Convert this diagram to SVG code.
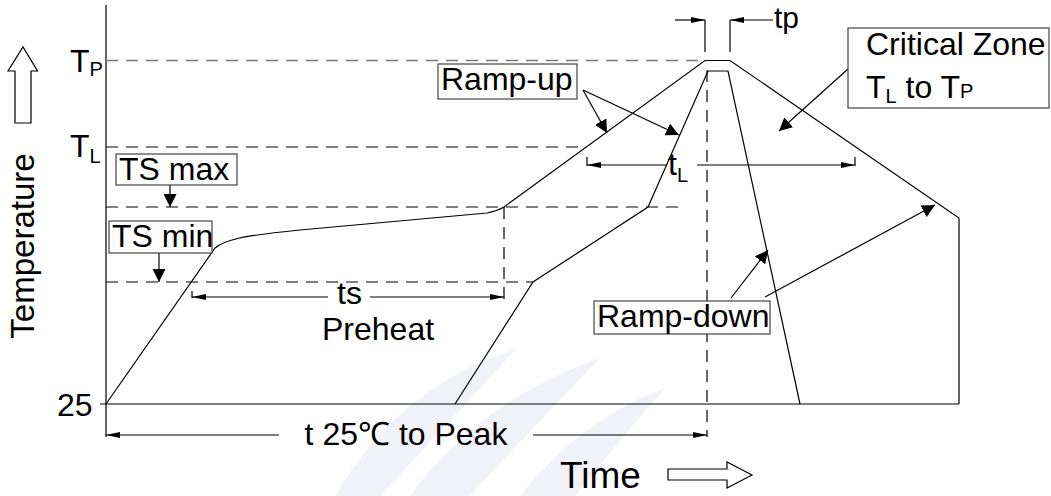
<svg xmlns="http://www.w3.org/2000/svg" width="1051" height="496" viewBox="0 0 1051 496">
<style>
text{font-family:"Liberation Sans",Arial,sans-serif;font-size:32px;fill:#000}
.sub{font-size:20px}
.ln{fill:none;stroke:#000;stroke-width:1.2}
.dash{fill:none;stroke:#000;stroke-width:1.2;stroke-dasharray:12 8}
.gdash{fill:none;stroke:#777;stroke-width:1.6;stroke-dasharray:12 8}
.box{fill:#fff;stroke:#444;stroke-width:1.2}
.hollow{fill:#fff;stroke:#000;stroke-width:1.2}
.wm{fill:#f1f2f7}
</style>
<defs>
<marker id="big" markerUnits="userSpaceOnUse" markerWidth="14" markerHeight="14" refX="13" refY="6.5" orient="auto"><path d="M0,0 L13,6.5 L0,13 z" fill="#000"/></marker>
<marker id="sm" markerUnits="userSpaceOnUse" markerWidth="15" markerHeight="7" refX="14" refY="3" orient="auto-start-reverse"><path d="M0,0 L14,3 L0,6 z" fill="#000"/></marker>
</defs>
<rect width="1051" height="496" fill="#fff"/>
<g id="watermark">
<path class="wm" d="M335,496 Q400,385 515,350 Q470,400 380,496 Z"/>
<path class="wm" d="M410,496 Q480,400 600,358 Q540,420 470,496 Z"/>
<path class="wm" d="M520,496 Q580,420 665,388 Q620,440 575,496 Z"/>
</g>
<g id="axes">
<line class="ln" x1="106" y1="5" x2="106" y2="437"/>
<line class="ln" x1="100" y1="404" x2="959" y2="404"/>
<polygon class="hollow" points="15,123 31,123 31,71 37.5,71 23,47 8,71 15,71"/>
<polygon class="hollow" points="668,469 727,469 727,462 752,475 727,488 727,480 668,480"/>
</g>
<g id="guides">
<line class="gdash" x1="106" y1="60.5" x2="705" y2="60.5"/>
<line class="dash" x1="106" y1="147" x2="586" y2="147"/>
<line class="dash" x1="106" y1="207" x2="680" y2="207"/>
<line class="dash" x1="106" y1="282" x2="533" y2="282"/>
<line class="dash" x1="504" y1="207" x2="504" y2="301"/>
<line class="dash" x1="707" y1="70" x2="707" y2="437"/>
</g>
<g id="profiles">
<path class="ln" d="M106,404 L215,248 C225,240 240,236 300,230 L487,213 Q497,211 504,207 L705,60.5 L730,60.5 L959,218 L959,404"/>
<path class="ln" d="M455,404 L533,282 L648,207 L708,71 L728,71 L800,404"/>
</g>
<g id="connectors">
<line class="ln" x1="170" y1="185" x2="170" y2="207" marker-end="url(#big)"/>
<line class="ln" x1="159" y1="253" x2="159" y2="282" marker-end="url(#big)"/>
<line class="ln" x1="583" y1="90" x2="607" y2="133" marker-end="url(#big)"/>
<line class="ln" x1="583" y1="90" x2="679" y2="135" marker-end="url(#big)"/>
<line class="ln" x1="848" y1="69" x2="779" y2="131" marker-end="url(#big)"/>
<line class="ln" x1="731" y1="298" x2="768" y2="250" marker-end="url(#big)"/>
<line class="ln" x1="765" y1="297" x2="935" y2="205" marker-end="url(#big)"/>
<line class="ln" x1="192" y1="297" x2="328" y2="297" marker-start="url(#sm)"/>
<line class="ln" x1="370" y1="297" x2="504" y2="297" marker-end="url(#sm)"/>
<line class="ln" x1="192" y1="291" x2="192" y2="298"/>
<line class="ln" x1="587" y1="165" x2="667" y2="165" marker-start="url(#sm)"/>
<line class="ln" x1="697" y1="165" x2="855" y2="165" marker-end="url(#sm)"/>
<line class="ln" x1="587" y1="157" x2="587" y2="166"/>
<line class="ln" x1="855" y1="157" x2="855" y2="166"/>
<line class="ln" x1="106" y1="435" x2="279" y2="435" marker-start="url(#sm)"/>
<line class="ln" x1="533" y1="435" x2="707" y2="435" marker-end="url(#sm)"/>
<line class="ln" x1="705" y1="20" x2="705" y2="52"/>
<line class="ln" x1="730" y1="20" x2="730" y2="52"/>
<line class="ln" x1="675" y1="20" x2="705" y2="20" marker-end="url(#sm)"/>
<line class="ln" x1="773" y1="20" x2="730" y2="20" marker-end="url(#sm)"/>
</g>
<g id="label-tp-axis"><text x="70" y="72">T<tspan class="sub" dy="4">P</tspan></text></g>
<g id="label-tl-axis"><text x="70" y="157">T<tspan class="sub" dy="6">L</tspan></text></g>
<g id="label-25"><text x="57" y="416">25</text></g>
<g id="label-temperature"><text transform="translate(34,246) rotate(-90)" text-anchor="middle" style="font-size:33px">Temperature</text></g>
<g id="node-tsmax"><rect class="box" x="116" y="154" width="121" height="31"/><text x="119" y="180">TS max</text></g>
<g id="node-tsmin"><rect class="box" x="109" y="221" width="103" height="32"/><text x="112" y="247">TS min</text></g>
<g id="node-rampup"><rect class="box" x="438" y="64" width="139" height="35"/><text x="441" y="90">Ramp-up</text></g>
<g id="node-rampdown"><rect class="box" x="594" y="301" width="176" height="33"/><text x="597" y="327">Ramp-down</text></g>
<g id="node-critical"><rect class="box" x="848" y="28" width="201" height="80"/><text x="866" y="55">Critical Zone</text><text x="866" y="98">T<tspan class="sub" dy="5">L</tspan><tspan dy="-5"> to T</tspan><tspan class="sub" dy="0">P</tspan></text></g>
<g id="label-ts"><text x="337" y="304">ts</text><text x="322" y="340">Preheat</text></g>
<g id="label-tl"><text x="668" y="175">t<tspan class="sub" dy="7">L</tspan></text></g>
<g id="label-tp"><text x="774" y="28" style="font-size:30px">tp</text></g>
<g id="label-t25"><text x="406" y="445" text-anchor="middle">t 25℃ to Peak</text></g>
<g id="label-time"><text x="560" y="488" style="font-size:37px">Time</text></g>
</svg>
